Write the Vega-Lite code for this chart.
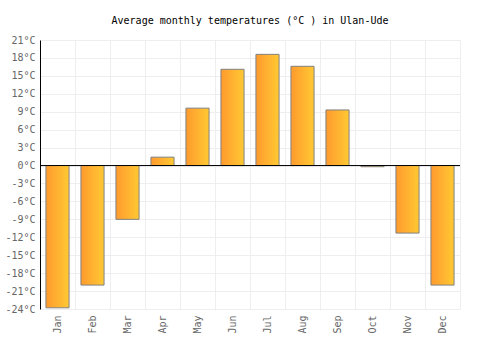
{
  "$schema": "https://vega.github.io/schema/vega-lite/v6.json",
  "width": 420,
  "height": 269,
  "autosize": {"type": "none"},
  "padding": {"left": 40, "top": 40, "right": 40, "bottom": 41},
  "background": "#ffffff",
  "title": {
    "text": "Average monthly temperatures (°C ) in Ulan-Ude",
    "font": "DejaVu Sans Mono",
    "fontSize": 10,
    "fontWeight": "normal",
    "color": "#000000",
    "anchor": "middle",
    "offset": 9
  },
  "config": {
    "view": {"stroke": "#eeeeee"},
    "axis": {
      "labelFont": "DejaVu Sans Mono",
      "labelFontSize": 10,
      "labelColor": "#666666",
      "gridColor": "#eeeeee",
      "gridWidth": 1,
      "ticks": false,
      "labelOverlap": false,
      "title": null
    }
  },
  "data": {
    "values": [
      {"month": "Jan", "temp": -23.8},
      {"month": "Feb", "temp": -20.0},
      {"month": "Mar", "temp": -9.0},
      {"month": "Apr", "temp": 1.4},
      {"month": "May", "temp": 9.6},
      {"month": "Jun", "temp": 16.1},
      {"month": "Jul", "temp": 18.6},
      {"month": "Aug", "temp": 16.6},
      {"month": "Sep", "temp": 9.3},
      {"month": "Oct", "temp": -0.2},
      {"month": "Nov", "temp": -11.3},
      {"month": "Dec", "temp": -20.0}
    ]
  },
  "layer": [
    {
      "mark": {
        "type": "bar",
        "width": {"band": 0.66},
        "stroke": "#808080",
        "strokeWidth": 1,
        "fill": {
          "gradient": "linear",
          "x1": 0, "x2": 1, "y1": 0, "y2": 0,
          "stops": [
            {"offset": 0, "color": "#ff9a2e"},
            {"offset": 1, "color": "#ffc933"}
          ]
        }
      },
      "encoding": {
        "x": {
          "field": "month",
          "type": "nominal",
          "sort": null,
          "scale": {"paddingInner": 0, "paddingOuter": 0},
          "axis": {
            "labelAngle": -90,
            "tickBand": "extent",
            "grid": true,
            "domain": false,
            "labelPadding": 6
          }
        },
        "y": {
          "field": "temp",
          "type": "quantitative",
          "scale": {"domain": [-24, 21], "nice": false, "zero": false},
          "axis": {
            "values": [-24, -21, -18, -15, -12, -9, -6, -3, 0, 3, 6, 9, 12, 15, 18, 21],
            "labelExpr": "datum.value + '°C'",
            "domainColor": "#000000",
            "domainWidth": 1,
            "labelPadding": 5,
            "grid": true
          }
        }
      }
    },
    {
      "mark": {"type": "rule", "color": "#000000", "strokeWidth": 1},
      "data": {"values": [{"temp": 0}]},
      "encoding": {
        "y": {
          "field": "temp",
          "type": "quantitative",
          "scale": {"domain": [-24, 21], "nice": false, "zero": false},
          "axis": {
            "values": [-24, -21, -18, -15, -12, -9, -6, -3, 0, 3, 6, 9, 12, 15, 18, 21],
            "labelExpr": "datum.value + '°C'",
            "domainColor": "#000000",
            "domainWidth": 1,
            "labelPadding": 5,
            "grid": true
          }
        }
      }
    }
  ]
}
